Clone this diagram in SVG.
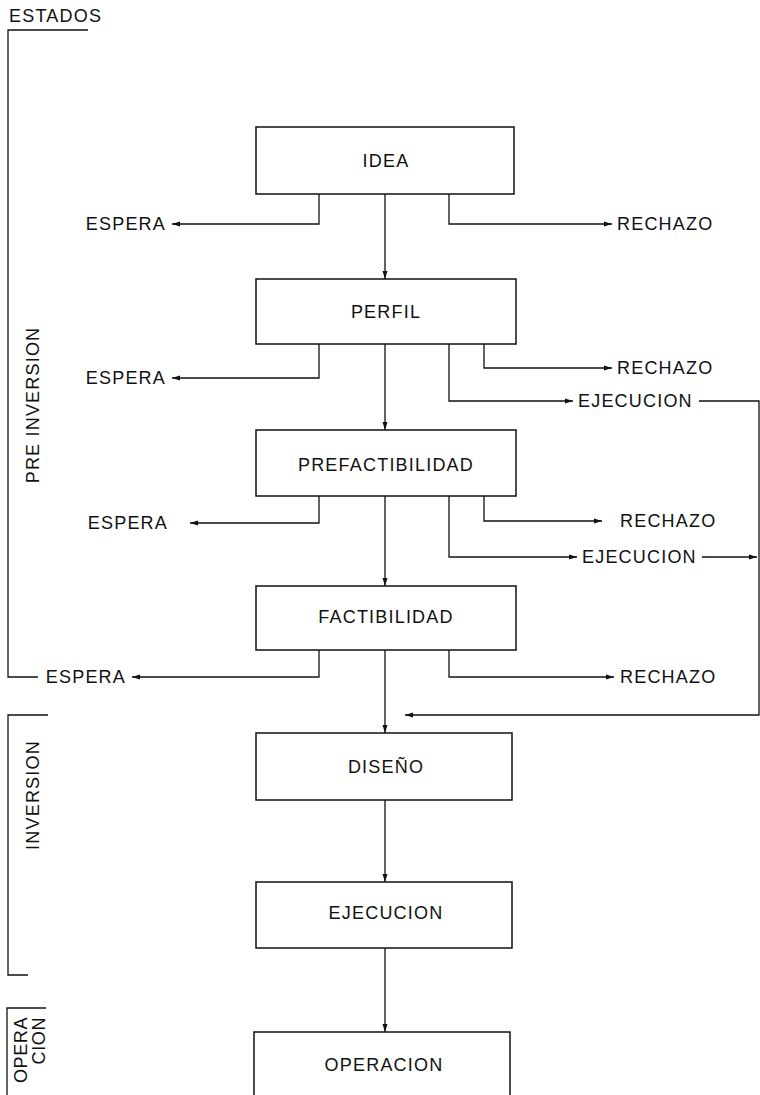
<svg xmlns="http://www.w3.org/2000/svg" width="760" height="1095" viewBox="0 0 760 1095">
<defs>
<style>
text{font-family:"Liberation Sans",Arial,sans-serif;font-size:18px;letter-spacing:1.2px;fill:#111}
.box{fill:#fff;stroke:#111;stroke-width:1.5}
.ln{fill:none;stroke:#111;stroke-width:1.3}
.br{fill:none;stroke:#111;stroke-width:1.3}
.c{text-anchor:middle}
.e{text-anchor:end}
.sm{letter-spacing:0.6px}
</style>
<marker id="ah" markerUnits="userSpaceOnUse" markerWidth="10" markerHeight="8" refX="8" refY="3" orient="auto">
<path d="M0,0.5 L8,3 L0,5.5 z" fill="#111"/>
</marker>
</defs>
<rect width="760" height="1095" fill="#fff"/>

<g id="stages">
<text x="9" y="22">ESTADOS</text>
<path class="br" d="M88,30 H8 V677 H38"/>
<text class="c" transform="translate(39,405) rotate(-90)">PRE INVERSION</text>
<path class="br" d="M48,715 H8 V975 H28"/>
<text class="c" transform="translate(39,795) rotate(-90)">INVERSION</text>
<path class="br" d="M46,1008 H7 V1095"/>
<text class="e sm" transform="translate(27,1017) rotate(-90)">OPERA</text>
<text class="e sm" transform="translate(45,1017) rotate(-90)">CION</text>
</g>

<g id="connectors">
<path class="ln" d="M385,194 V279" marker-end="url(#ah)"/>
<path class="ln" d="M319,194 V224 H172" marker-end="url(#ah)"/>
<path class="ln" d="M449,194 V224 H612" marker-end="url(#ah)"/>

<path class="ln" d="M385,344 V430" marker-end="url(#ah)"/>
<path class="ln" d="M319,344 V378 H172" marker-end="url(#ah)"/>
<path class="ln" d="M484,344 V368 H612" marker-end="url(#ah)"/>
<path class="ln" d="M449,344 V401 H573" marker-end="url(#ah)"/>
<path class="ln" d="M699,401 H759 V715 H405" marker-end="url(#ah)"/>

<path class="ln" d="M385,496 V586" marker-end="url(#ah)"/>
<path class="ln" d="M319,496 V523 H190" marker-end="url(#ah)"/>
<path class="ln" d="M484,496 V521 H602" marker-end="url(#ah)"/>
<path class="ln" d="M449,496 V557 H577" marker-end="url(#ah)"/>
<path class="ln" d="M702,557 H757" marker-end="url(#ah)"/>

<path class="ln" d="M385,650 V733" marker-end="url(#ah)"/>
<path class="ln" d="M319,650 V677 H132" marker-end="url(#ah)"/>
<path class="ln" d="M449,650 V677 H614" marker-end="url(#ah)"/>

<path class="ln" d="M385,800 V882" marker-end="url(#ah)"/>
<path class="ln" d="M385,948 V1032" marker-end="url(#ah)"/>
</g>

<g id="labels">
<text class="e" x="166" y="230">ESPERA</text>
<text x="617" y="230">RECHAZO</text>
<text class="e" x="166" y="384">ESPERA</text>
<text x="617" y="374">RECHAZO</text>
<text x="578" y="407">EJECUCION</text>
<text class="e" x="168" y="529">ESPERA</text>
<text x="620" y="527">RECHAZO</text>
<text x="582" y="563">EJECUCION</text>
<text class="e" x="126" y="683">ESPERA</text>
<text x="620" y="683">RECHAZO</text>
</g>

<g id="idea"><rect class="box" x="256" y="127" width="258" height="67"/><text class="c" x="386" y="167">IDEA</text></g>
<g id="perfil"><rect class="box" x="256" y="279" width="260" height="65"/><text class="c" x="386" y="318">PERFIL</text></g>
<g id="prefactibilidad"><rect class="box" x="256" y="430" width="260" height="66"/><text class="c" x="386" y="471">PREFACTIBILIDAD</text></g>
<g id="factibilidad"><rect class="box" x="256" y="586" width="260" height="64"/><text class="c" x="386" y="623">FACTIBILIDAD</text></g>
<g id="diseno"><rect class="box" x="256" y="733" width="256" height="67"/><text class="c" x="386" y="773">DISEÑO</text></g>
<g id="ejecucion"><rect class="box" x="256" y="882" width="256" height="66"/><text class="c" x="386" y="919">EJECUCION</text></g>
<g id="operacion"><rect class="box" x="254" y="1032" width="256" height="80"/><text class="c" x="384" y="1071">OPERACION</text></g>
</svg>
